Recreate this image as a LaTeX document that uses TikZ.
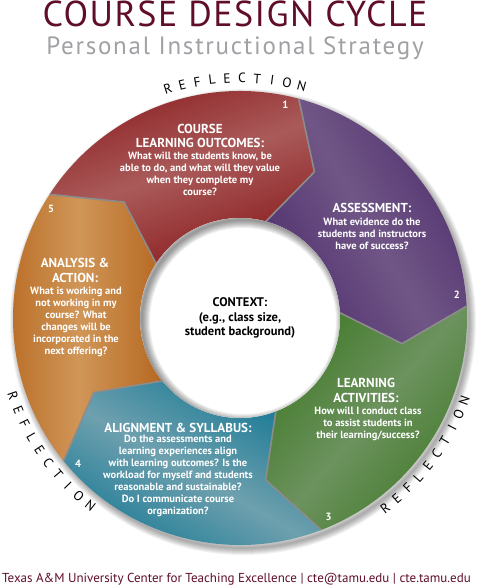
\documentclass[tikz,border=0pt]{standalone}
\usepackage{fontspec}
\setmainfont{PT Sans}

\definecolor{titlered}{RGB}{96,14,40}
\definecolor{subgray}{RGB}{160,161,164}
\definecolor{redd}{RGB}{138,28,30}
\definecolor{redl}{RGB}{170,90,90}
\definecolor{purd}{RGB}{80,48,110}
\definecolor{purl}{RGB}{112,86,134}
\definecolor{grnd}{RGB}{66,122,42}
\definecolor{grnl}{RGB}{108,146,94}
\definecolor{blud}{RGB}{22,120,148}
\definecolor{blul}{RGB}{110,160,174}
\definecolor{ord}{RGB}{182,104,32}
\definecolor{orl}{RGB}{208,150,88}

\begin{document}
\begin{tikzpicture}
	[
	x=1pt, y=1pt,
	%Stile
	head/.style={white, align=center, inner sep=0pt, font=\fontsize{13}{14.5}\selectfont\bfseries},
	body/.style={white, align=center, inner sep=0pt, font=\fontsize{10.5}{12}\selectfont\bfseries},
	num/.style={white, inner sep=0pt, font=\fontsize{10.5}{12}\selectfont\bfseries},
	refl/.style={inner sep=0pt, font=\fontsize{13.5}{14}\selectfont},
	gapline/.style={black!45, line width=1.6pt, line join=round}
	]
	
	%Rahmen
	\path[use as bounding box, fill=white] (-240,-270) rectangle (245,318);
	
	%Titel
	\node[anchor=base, titlered, font=\fontsize{36}{38}\selectfont\addfontfeature{LetterSpace=4}] (title) at (-5,291) {COURSE DESIGN CYCLE};
	\node[anchor=base, subgray, font=\fontsize{25}{27}\selectfont\addfontfeature{LetterSpace=7}] (subtitle) at (-5,263) {Personal Instructional Strategy};
	
	%Schatten Ring
	\foreach \w in {2,4,...,14}
		\draw[black, opacity=0.05, line width=\w pt] (3,-4) circle (226);
	
	%Segmente
	\foreach \k/\dk/\lt/\ang in {0/redd/redl/20, 1/purd/purl/-60, 2/grnd/grnl/50, 3/blud/blul/-30, 4/ord/orl/90}
	{
		\pgfmathsetmacro{\l}{75-72*\k}
		\shade[top color=\dk, bottom color=\dk, middle color=\lt, shading angle=\ang]
			({\l+72}:227) arc[start angle=\l+72, end angle=\l, radius=227] -- ({\l-12}:164) -- (\l:100) arc[start angle=\l, end angle=\l+72, radius=100] -- ({\l+60}:164) -- cycle;
	}
	
	%Fugen
	\foreach \k in {0,...,4}
		\draw[gapline] ({75-72*\k}:227) -- ({63-72*\k}:164) -- ({75-72*\k}:100);
	
	%Kreis innen
	\fill[white] (0,0) circle (100);
	\begin{scope}
		\clip (0,0) circle (100);
		\foreach \w in {2,4,...,16}
			\draw[black, opacity=0.06, line width=\w pt] (3,-3) circle (101);
	\end{scope}
	
	%Texte
	\node[head] (h1) at (-40,182) {COURSE\\LEARNING OUTCOMES:};
	\node[body] (b1) at (-40,144) {What will the students know, be\\able to do, and what will they value\\when they complete my\\course?};
	
	\node[head] (h2) at (132,110) {ASSESSMENT:};
	\node[body] (b2) at (132,84) {What evidence do the\\students and instructors\\have of success?};
	
	\node[head] (h3) at (126,-72.5) {LEARNING\\ACTIVITIES:};
	\node[body] (b3) at (128,-106) {How will I conduct class\\to assist students in\\their learning/success?};
	
	\node[head] (h4) at (-62,-110) {ALIGNMENT \& SYLLABUS:};
	\node[body] (b4) at (-62,-158) {Do the assessments and\\learning experiences align\\with learning outcomes? Is the\\workload for myself and students\\reasonable and sustainable?\\Do I communicate course\\organization?};
	
	\node[head] (h5) at (-165,47.5) {ANALYSIS \&\\ACTION:};
	\node[body] (b5) at (-164,-3.5) {What is working and\\not working in my\\course? What\\changes will be\\incorporated in the\\next offering?};
	
	\node[align=center, font=\fontsize{12.5}{14.5}\selectfont\bfseries] (context) at (0,0) {CONTEXT:\\(e.g., class size,\\student background)};
	
	%Nummern
	\foreach \k in {1,...,5}
		\node[num] (n\k) at ({78-72*(\k-1)}:218) {\k};
	
	%Reflection
	\foreach \c [count=\i from 0] in {R,E,F,L,E,C,T,I,O,N}
	{
		\node[refl, rotate={17.5-3.6*\i}] (rt\i) at ({107.5-3.6*\i}:240) {\c};
		\node[refl, rotate={289+3.6*\i}] (rl\i) at ({199+3.6*\i}:240) {\c};
		\node[refl, rotate={37.4+3.6*\i}] (rr\i) at ({-52.6+3.6*\i}:239) {\c};
	}
	
	%Fusszeile
	\node[anchor=base, titlered, font=\fontsize{13}{14}\selectfont] (footer) at (-3.5,-264) {Texas A\&M University Center for Teaching Excellence | cte@tamu.edu | cte.tamu.edu};
\end{tikzpicture}
\end{document}
